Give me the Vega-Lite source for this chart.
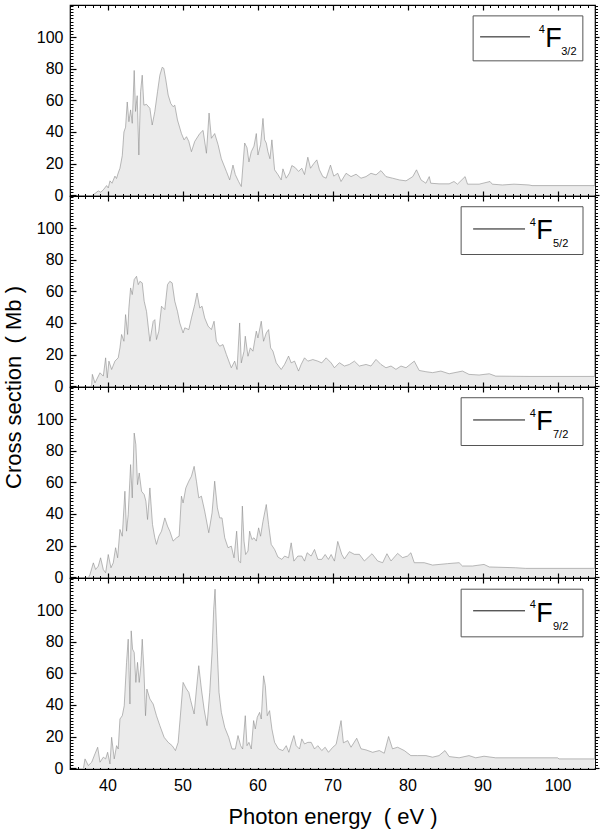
{
"$schema": "https://vega.github.io/schema/vega-lite/v6.json",
"padding": {"left": 1, "top": 3, "right": 2, "bottom": 5},
"background": "white",
"bounds": "flush",
"config": {"view": {"stroke": "black", "strokeWidth": 1.2}, "axis": {"grid": false, "domain": false, "tickColor": "black", "labelColor": "black", "labelFont": "Liberation Sans", "titleFont": "Liberation Sans", "titleFontWeight": "normal", "titleColor": "black"}},
"spacing": 0,
"datasets": {
"s32": [{"E":38.0,"s":0},{"E":38.33,"s":1},{"E":38.77,"s":2.6},{"E":39.1,"s":1.8},{"E":39.44,"s":3.3},{"E":39.88,"s":6},{"E":40.1,"s":4.5},{"E":40.33,"s":9},{"E":40.6,"s":7.5},{"E":40.99,"s":12},{"E":41.2,"s":10.5},{"E":41.43,"s":14},{"E":41.66,"s":17},{"E":41.97,"s":25},{"E":42.19,"s":40},{"E":42.41,"s":43},{"E":42.63,"s":59},{"E":42.85,"s":46.5},{"E":43.08,"s":54},{"E":43.3,"s":45.5},{"E":43.56,"s":79},{"E":43.74,"s":53},{"E":43.96,"s":63},{"E":44.18,"s":25.4},{"E":44.41,"s":65.5},{"E":44.63,"s":76},{"E":44.85,"s":57},{"E":45.2,"s":57.5},{"E":45.65,"s":55},{"E":45.96,"s":44.4},{"E":46.31,"s":53},{"E":46.67,"s":65.5},{"E":46.98,"s":76},{"E":47.29,"s":81},{"E":47.51,"s":80.3},{"E":47.78,"s":73},{"E":48.09,"s":63.4},{"E":48.44,"s":58},{"E":48.75,"s":56},{"E":48.97,"s":57},{"E":49.33,"s":47.6},{"E":49.86,"s":39},{"E":50.21,"s":35},{"E":50.53,"s":37},{"E":50.84,"s":34},{"E":51.19,"s":27.5},{"E":51.63,"s":34},{"E":52.3,"s":39},{"E":52.74,"s":41},{"E":53.19,"s":26.5},{"E":53.54,"s":52},{"E":53.85,"s":36},{"E":54.29,"s":39},{"E":54.74,"s":32},{"E":55.18,"s":23},{"E":55.85,"s":15},{"E":56.29,"s":9.6},{"E":56.73,"s":19},{"E":57.04,"s":13},{"E":57.49,"s":8.5},{"E":57.84,"s":5.4},{"E":58.29,"s":33},{"E":58.6,"s":30},{"E":58.86,"s":21},{"E":59.17,"s":27.5},{"E":59.53,"s":31},{"E":59.84,"s":39},{"E":60.06,"s":25.4},{"E":60.41,"s":32},{"E":60.73,"s":48.6},{"E":60.95,"s":35},{"E":61.17,"s":33},{"E":61.39,"s":27.5},{"E":61.66,"s":23},{"E":61.92,"s":35},{"E":62.28,"s":16},{"E":62.72,"s":13},{"E":63.16,"s":9.6},{"E":63.39,"s":16.6},{"E":63.83,"s":10.7},{"E":64.27,"s":14},{"E":64.58,"s":18.7},{"E":65.03,"s":17.4},{"E":65.47,"s":15},{"E":65.91,"s":17},{"E":66.27,"s":13},{"E":66.71,"s":24},{"E":67.07,"s":17},{"E":67.51,"s":20},{"E":67.91,"s":22.3},{"E":68.26,"s":16},{"E":68.71,"s":11.7},{"E":69.15,"s":10.7},{"E":69.73,"s":19},{"E":70.17,"s":12},{"E":70.7,"s":13.8},{"E":71.14,"s":8.6},{"E":71.81,"s":13.8},{"E":72.47,"s":11.7},{"E":73.14,"s":13.2},{"E":73.8,"s":10.7},{"E":74.47,"s":11.7},{"E":75.13,"s":13.8},{"E":75.8,"s":12.8},{"E":76.46,"s":15.5},{"E":77.13,"s":11.7},{"E":78.0,"s":10.7},{"E":78.9,"s":9.6},{"E":79.8,"s":9},{"E":80.7,"s":11.7},{"E":81.2,"s":16},{"E":81.8,"s":9.6},{"E":82.45,"s":7.5},{"E":82.9,"s":11.7},{"E":83.1,"s":7.5},{"E":84.2,"s":7.1},{"E":85.55,"s":7.1},{"E":86.2,"s":8.6},{"E":86.66,"s":6.9},{"E":87.68,"s":11.7},{"E":88.0,"s":6.9},{"E":89.55,"s":6.9},{"E":91.0,"s":8.6},{"E":91.3,"s":6.9},{"E":92.65,"s":6.4},{"E":94.2,"s":6.9},{"E":96.2,"s":6.4},{"E":96.6,"s":6.0},{"E":105,"s":6.0}],
"s52": [{"E":37.8,"s":0},{"E":37.89,"s":1},{"E":37.98,"s":7.4},{"E":38.33,"s":2},{"E":39.0,"s":8.4},{"E":39.44,"s":6.3},{"E":39.75,"s":17.9},{"E":39.97,"s":5.2},{"E":40.19,"s":15.8},{"E":40.55,"s":10.5},{"E":40.99,"s":15.8},{"E":41.43,"s":17.9},{"E":41.66,"s":24.2},{"E":41.88,"s":32.7},{"E":42.19,"s":28.4},{"E":42.41,"s":45.3},{"E":42.68,"s":32.7},{"E":42.85,"s":49.5},{"E":43.08,"s":62.2},{"E":43.3,"s":58},{"E":43.56,"s":67.5},{"E":43.87,"s":69.6},{"E":44.1,"s":64.3},{"E":44.32,"s":66.4},{"E":44.63,"s":65.4},{"E":44.89,"s":53.8},{"E":45.2,"s":47.4},{"E":45.65,"s":28.4},{"E":46.09,"s":41},{"E":46.31,"s":42.1},{"E":46.53,"s":29.5},{"E":46.84,"s":34.8},{"E":47.2,"s":50.6},{"E":47.64,"s":48.5},{"E":48.0,"s":64.3},{"E":48.31,"s":66.4},{"E":48.62,"s":65.4},{"E":48.97,"s":53.8},{"E":49.33,"s":47.4},{"E":49.64,"s":40},{"E":50.08,"s":33.7},{"E":50.3,"s":36.9},{"E":50.84,"s":35.8},{"E":51.19,"s":43.2},{"E":51.63,"s":51.6},{"E":51.94,"s":59},{"E":52.3,"s":49.5},{"E":52.61,"s":50.6},{"E":52.96,"s":43.2},{"E":53.41,"s":38},{"E":53.85,"s":35.8},{"E":54.21,"s":41.1},{"E":54.52,"s":28.4},{"E":54.96,"s":25.3},{"E":55.4,"s":26.3},{"E":55.85,"s":20},{"E":56.51,"s":11.6},{"E":56.96,"s":15.8},{"E":57.27,"s":10.5},{"E":57.62,"s":40},{"E":57.84,"s":14.7},{"E":58.2,"s":22.1},{"E":58.37,"s":31.6},{"E":58.73,"s":18.9},{"E":59.04,"s":24.2},{"E":59.39,"s":22.1},{"E":59.84,"s":34.8},{"E":60.06,"s":30.5},{"E":60.5,"s":41.1},{"E":60.81,"s":28.4},{"E":61.17,"s":33.7},{"E":61.48,"s":35.8},{"E":61.75,"s":24.2},{"E":62.06,"s":22.1},{"E":62.5,"s":14.7},{"E":63.16,"s":10.5},{"E":63.61,"s":13.7},{"E":64.14,"s":19},{"E":64.49,"s":14.7},{"E":64.94,"s":15.8},{"E":65.47,"s":9.5},{"E":65.82,"s":13.7},{"E":66.27,"s":17.9},{"E":66.71,"s":15.8},{"E":67.38,"s":16.8},{"E":68.04,"s":15.8},{"E":68.57,"s":14.7},{"E":69.15,"s":17.9},{"E":69.82,"s":14.7},{"E":70.26,"s":11.6},{"E":70.92,"s":14.8},{"E":71.59,"s":12.7},{"E":72.25,"s":13.7},{"E":72.92,"s":15.8},{"E":73.58,"s":12.7},{"E":74.47,"s":13.7},{"E":75.13,"s":12.7},{"E":75.8,"s":16.9},{"E":76.46,"s":13.7},{"E":77.13,"s":11.6},{"E":77.8,"s":12.7},{"E":78.46,"s":10.6},{"E":79.13,"s":12.7},{"E":79.8,"s":11.6},{"E":80.9,"s":15.8},{"E":81.56,"s":9.9},{"E":82.45,"s":9.1},{"E":83.34,"s":8.5},{"E":84.45,"s":9.5},{"E":85.55,"s":7.8},{"E":87.33,"s":9.5},{"E":88.2,"s":7.4},{"E":89.55,"s":7.0},{"E":90.9,"s":7.8},{"E":91.76,"s":6.3},{"E":96.2,"s":6.1},{"E":105,"s":6.1}],
"s72": [{"E":37.5,"s":0},{"E":37.67,"s":1.7},{"E":38.11,"s":9},{"E":38.42,"s":4.8},{"E":38.77,"s":6.9},{"E":39.08,"s":12.2},{"E":39.44,"s":4.8},{"E":39.75,"s":2.7},{"E":40.1,"s":14.3},{"E":40.46,"s":5.9},{"E":40.77,"s":9},{"E":41.08,"s":18.6},{"E":41.35,"s":12.2},{"E":41.66,"s":30.2},{"E":41.97,"s":25.9},{"E":42.32,"s":54.4},{"E":42.54,"s":29.1},{"E":42.76,"s":39.6},{"E":43.08,"s":71.3},{"E":43.3,"s":50.2},{"E":43.56,"s":91.3},{"E":43.78,"s":84},{"E":44.0,"s":58.6},{"E":44.23,"s":66},{"E":44.54,"s":54.4},{"E":44.89,"s":52.3},{"E":45.12,"s":48.1},{"E":45.34,"s":36.5},{"E":45.65,"s":56.5},{"E":46.0,"s":33.3},{"E":46.31,"s":24.9},{"E":46.53,"s":20.7},{"E":46.84,"s":25.9},{"E":47.2,"s":29.1},{"E":47.64,"s":37.5},{"E":48.0,"s":32.3},{"E":48.31,"s":29.1},{"E":48.75,"s":22.8},{"E":49.2,"s":24.9},{"E":49.55,"s":25.9},{"E":49.86,"s":51.3},{"E":50.08,"s":47},{"E":50.44,"s":56.5},{"E":50.84,"s":60.8},{"E":51.19,"s":63.9},{"E":51.55,"s":70.2},{"E":51.86,"s":60.8},{"E":52.17,"s":50.2},{"E":52.52,"s":51.3},{"E":52.96,"s":41.8},{"E":53.5,"s":28.1},{"E":53.94,"s":40.7},{"E":54.29,"s":60.8},{"E":54.65,"s":43.9},{"E":54.96,"s":37.5},{"E":55.27,"s":37.5},{"E":55.63,"s":24.9},{"E":56.07,"s":18.6},{"E":56.51,"s":19.6},{"E":56.87,"s":12.2},{"E":57.22,"s":29.1},{"E":57.49,"s":10.1},{"E":57.75,"s":9.1},{"E":57.98,"s":45},{"E":58.2,"s":22.8},{"E":58.42,"s":14.3},{"E":58.73,"s":16.5},{"E":58.95,"s":29.1},{"E":59.26,"s":23.8},{"E":59.53,"s":24.9},{"E":59.84,"s":22.8},{"E":60.15,"s":31.2},{"E":60.41,"s":25.9},{"E":60.73,"s":35.4},{"E":61.17,"s":46},{"E":61.48,"s":33.3},{"E":61.83,"s":20.7},{"E":62.28,"s":17.5},{"E":62.72,"s":12.7},{"E":63.25,"s":11.2},{"E":63.61,"s":13.3},{"E":64.14,"s":12.2},{"E":64.49,"s":21.7},{"E":64.85,"s":10.1},{"E":65.38,"s":13.3},{"E":65.91,"s":13.3},{"E":66.27,"s":10.1},{"E":66.62,"s":15.4},{"E":67.15,"s":13.3},{"E":67.6,"s":17.5},{"E":68.04,"s":11.2},{"E":68.57,"s":11.2},{"E":69.02,"s":14.3},{"E":69.46,"s":11.2},{"E":69.82,"s":14.3},{"E":70.26,"s":10.1},{"E":70.7,"s":22.6},{"E":71.24,"s":14.3},{"E":71.59,"s":11.5},{"E":72.25,"s":16.1},{"E":72.92,"s":14.4},{"E":73.58,"s":14.4},{"E":74.25,"s":10.2},{"E":75.27,"s":14.8},{"E":76.02,"s":10.2},{"E":76.69,"s":9.1},{"E":77.26,"s":14.8},{"E":77.8,"s":10.2},{"E":78.68,"s":15},{"E":79.35,"s":12.3},{"E":80.0,"s":13.3},{"E":80.45,"s":15.4},{"E":80.9,"s":9.1},{"E":82.23,"s":9.1},{"E":83.34,"s":7.6},{"E":85.33,"s":8.5},{"E":86.88,"s":9.1},{"E":87.33,"s":7.0},{"E":88.66,"s":7.0},{"E":90.2,"s":8.0},{"E":90.9,"s":6.4},{"E":94.4,"s":5.9},{"E":95.75,"s":5.5},{"E":105,"s":5.5}],
"s92": [{"E":36.8,"s":0},{"E":37.0,"s":5.8},{"E":37.44,"s":1.6},{"E":37.89,"s":3.7},{"E":38.33,"s":9},{"E":38.69,"s":13.2},{"E":39.0,"s":3.7},{"E":39.44,"s":6.9},{"E":39.75,"s":5.8},{"E":40.02,"s":10},{"E":40.33,"s":2.6},{"E":40.55,"s":19.5},{"E":40.9,"s":5.8},{"E":41.21,"s":14.2},{"E":41.43,"s":12.1},{"E":41.66,"s":31.1},{"E":41.97,"s":33.2},{"E":42.23,"s":39.5},{"E":42.54,"s":67},{"E":42.76,"s":81.7},{"E":42.99,"s":40.6},{"E":43.16,"s":87},{"E":43.34,"s":75.4},{"E":43.56,"s":73.3},{"E":43.78,"s":54.3},{"E":44.0,"s":67},{"E":44.23,"s":54.3},{"E":44.45,"s":64.9},{"E":44.63,"s":81.7},{"E":44.85,"s":62.8},{"E":45.07,"s":33.2},{"E":45.25,"s":50.1},{"E":45.65,"s":43.8},{"E":46.09,"s":40.6},{"E":46.53,"s":33.2},{"E":46.98,"s":26.9},{"E":47.55,"s":19.5},{"E":48.09,"s":16.3},{"E":48.62,"s":14.2},{"E":49.06,"s":11.1},{"E":49.42,"s":16.3},{"E":49.68,"s":31.1},{"E":50.08,"s":54.3},{"E":50.53,"s":50.1},{"E":50.84,"s":48},{"E":51.1,"s":42.7},{"E":51.55,"s":34.3},{"E":51.86,"s":50.1},{"E":52.17,"s":64.9},{"E":52.52,"s":50.1},{"E":52.88,"s":37.4},{"E":53.27,"s":26.9},{"E":53.63,"s":48},{"E":53.94,"s":73.3},{"E":54.16,"s":100.7},{"E":54.34,"s":113.4},{"E":54.56,"s":83.9},{"E":54.87,"s":48},{"E":55.18,"s":35.3},{"E":55.63,"s":25.8},{"E":56.16,"s":19.5},{"E":56.6,"s":12.1},{"E":57.04,"s":12.1},{"E":57.4,"s":20.6},{"E":57.75,"s":14.2},{"E":58.02,"s":12.1},{"E":58.37,"s":33.2},{"E":58.6,"s":14.2},{"E":58.86,"s":16.3},{"E":59.17,"s":12.1},{"E":59.48,"s":30.1},{"E":59.71,"s":24.8},{"E":59.97,"s":32.2},{"E":60.28,"s":35.3},{"E":60.5,"s":31.1},{"E":60.81,"s":58.5},{"E":61.04,"s":52.2},{"E":61.3,"s":33.2},{"E":61.61,"s":36.4},{"E":61.92,"s":24.8},{"E":62.28,"s":16.3},{"E":62.81,"s":12.1},{"E":63.39,"s":11.1},{"E":63.83,"s":14.2},{"E":64.18,"s":10},{"E":64.49,"s":15.3},{"E":64.85,"s":20.6},{"E":65.16,"s":14.2},{"E":65.6,"s":12.1},{"E":65.91,"s":18.5},{"E":66.27,"s":15.3},{"E":66.71,"s":16.3},{"E":67.16,"s":16.3},{"E":67.6,"s":12.1},{"E":68.04,"s":14.2},{"E":68.57,"s":11.1},{"E":69.02,"s":13.2},{"E":69.46,"s":10},{"E":70.04,"s":13.2},{"E":70.48,"s":15},{"E":70.92,"s":25},{"E":71.14,"s":30.1},{"E":71.45,"s":16},{"E":72.03,"s":17.4},{"E":72.47,"s":13.2},{"E":73.23,"s":18.9},{"E":73.8,"s":12.2},{"E":74.47,"s":11.5},{"E":75.35,"s":10.0},{"E":76.24,"s":11.1},{"E":76.9,"s":9.4},{"E":77.48,"s":20},{"E":78.0,"s":12.2},{"E":78.68,"s":13.2},{"E":79.57,"s":11.1},{"E":80.45,"s":7.9},{"E":81.34,"s":7.9},{"E":82.45,"s":7.9},{"E":83.34,"s":6.9},{"E":84.2,"s":7.9},{"E":85.0,"s":11.1},{"E":85.55,"s":7.3},{"E":86.88,"s":6.5},{"E":88.2,"s":7.9},{"E":89.1,"s":6.5},{"E":90.2,"s":7.5},{"E":91.76,"s":6.5},{"E":100.0,"s":6.5},{"E":100.2,"s":5.8},{"E":105,"s":5.8}]
},
"vconcat": [
{
"width": 525, "height": 191,
"layer": [
{"data": {"name": "s32"}, "mark": {"type": "area", "fill": "#ebebeb", "strokeWidth": 0},
 "encoding": {
  "x": {"field": "E", "type": "quantitative", "scale": {"domain": [35, 105], "nice": false, "zero": false}, "axis": {"orient": "bottom", "values": [40,50,60,70,80,90,100], "labels": false, "tickSize": 5, "tickWidth": 1.2, "title": null}},
  "y": {"field": "s", "type": "quantitative", "scale": {"domain": [-0.6, 120.5], "nice": false, "zero": false}, "axis": {"orient": "left", "values": [0,20,40,60,80,100], "tickSize": -6, "tickWidth": 1.2, "labelPadding": 13, "labelFontSize": 16, "title": null}},
  "y2": {"datum": 0}}},
{"data": {"name": "s32"}, "mark": {"type": "line", "stroke": "#8c8c8c", "strokeWidth": 0.6},
 "encoding": {
  "x": {"field": "E", "type": "quantitative", "axis": {"orient": "bottom", "values": [35,36,37,38,39,40,41,42,43,44,45,46,47,48,49,50,51,52,53,54,55,56,57,58,59,60,61,62,63,64,65,66,67,68,69,70,71,72,73,74,75,76,77,78,79,80,81,82,83,84,85,86,87,88,89,90,91,92,93,94,95,96,97,98,99,100,101,102,103,104,105], "labels": false, "tickSize": 2.5, "tickWidth": 1, "title": null}},
  "y": {"field": "s", "type": "quantitative", "axis": {"orient": "left", "values": [0,2,4,6,8,10,12,14,16,18,20,22,24,26,28,30,32,34,36,38,40,42,44,46,48,50,52,54,56,58,60,62,64,66,68,70,72,74,76,78,80,82,84,86,88,90,92,94,96,98,100,102,104,106,108,110,112,114,116,118,120], "labels": false, "tickSize": -3, "tickWidth": 1, "title": null}}}},
{"data": {"values": [{"box": "legend"}]}, "mark": {"type": "rect", "fill": "white", "stroke": "#555555", "strokeWidth": 1},
 "encoding": {
  "x": {"datum": 88.75, "type": "quantitative", "axis": {"orient": "top", "values": [40,50,60,70,80,90,100], "labels": false, "tickSize": -5, "tickWidth": 1.2, "title": null}},
  "x2": {"datum": 103.38},
  "y": {"datum": 113.6, "type": "quantitative", "axis": {"orient": "right", "values": [0,20,40,60,80,100], "labels": false, "tickSize": 4, "tickWidth": 1.2, "title": null}},
  "y2": {"datum": 85.1}}},
{"data": {"values": [{"line": "legend"}]}, "mark": {"type": "rule", "stroke": "#111111", "strokeWidth": 1},
 "encoding": {
  "x": {"datum": 89.68, "type": "quantitative", "axis": {"orient": "top", "values": [35,36,37,38,39,40,41,42,43,44,45,46,47,48,49,50,51,52,53,54,55,56,57,58,59,60,61,62,63,64,65,66,67,68,69,70,71,72,73,74,75,76,77,78,79,80,81,82,83,84,85,86,87,88,89,90,91,92,93,94,95,96,97,98,99,100,101,102,103,104,105], "labels": false, "tickSize": -2.5, "tickWidth": 1, "title": null}},
  "x2": {"datum": 96.33},
  "y": {"datum": 100.3, "type": "quantitative", "axis": {"orient": "right", "values": [0,2,4,6,8,10,12,14,16,18,20,22,24,26,28,30,32,34,36,38,40,42,44,46,48,50,52,54,56,58,60,62,64,66,68,70,72,74,76,78,80,82,84,86,88,90,92,94,96,98,100,102,104,106,108,110,112,114,116,118,120], "labels": false, "tickSize": 2.5, "tickWidth": 1, "title": null}}}},
{"data": {"values": [{"t": "4"}]}, "mark": {"type": "text", "align": "left", "baseline": "alphabetic", "fontSize": 11, "font": "Liberation Sans"},
 "encoding": {"x": {"datum": 97.5, "type": "quantitative", "axis": null}, "y": {"datum": 102.8, "type": "quantitative", "axis": null}, "text": {"field": "t"}}},
{"data": {"values": [{"t": "F"}]}, "mark": {"type": "text", "align": "left", "baseline": "alphabetic", "fontSize": 27, "font": "Liberation Sans"},
 "encoding": {"x": {"datum": 98.35, "type": "quantitative", "axis": null}, "y": {"datum": 94, "type": "quantitative", "axis": null}, "text": {"field": "t"}}},
{"data": {"values": [{"t": "3/2"}]}, "mark": {"type": "text", "align": "left", "baseline": "alphabetic", "fontSize": 11, "font": "Liberation Sans"},
 "encoding": {"x": {"datum": 100.5, "type": "quantitative", "axis": null}, "y": {"datum": 88.9, "type": "quantitative", "axis": null}, "text": {"field": "t"}}}
],
"resolve": {"axis": {"x": "independent", "y": "independent"}}
},
{
"width": 525, "height": 191,
"layer": [
{"data": {"name": "s52"}, "mark": {"type": "area", "fill": "#ebebeb", "strokeWidth": 0},
 "encoding": {
  "x": {"field": "E", "type": "quantitative", "scale": {"domain": [35, 105], "nice": false, "zero": false}, "axis": {"orient": "bottom", "values": [40,50,60,70,80,90,100], "labels": false, "tickSize": 5, "tickWidth": 1.2, "title": null}},
  "y": {"field": "s", "type": "quantitative", "scale": {"domain": [-0.6, 120.5], "nice": false, "zero": false}, "axis": {"orient": "left", "values": [0,20,40,60,80,100], "tickSize": -6, "tickWidth": 1.2, "labelPadding": 13, "labelFontSize": 16, "title": null}},
  "y2": {"datum": 0}}},
{"data": {"name": "s52"}, "mark": {"type": "line", "stroke": "#8c8c8c", "strokeWidth": 0.6},
 "encoding": {
  "x": {"field": "E", "type": "quantitative", "axis": {"orient": "bottom", "values": [35,36,37,38,39,40,41,42,43,44,45,46,47,48,49,50,51,52,53,54,55,56,57,58,59,60,61,62,63,64,65,66,67,68,69,70,71,72,73,74,75,76,77,78,79,80,81,82,83,84,85,86,87,88,89,90,91,92,93,94,95,96,97,98,99,100,101,102,103,104,105], "labels": false, "tickSize": 2.5, "tickWidth": 1, "title": null}},
  "y": {"field": "s", "type": "quantitative", "axis": {"orient": "left", "values": [0,2,4,6,8,10,12,14,16,18,20,22,24,26,28,30,32,34,36,38,40,42,44,46,48,50,52,54,56,58,60,62,64,66,68,70,72,74,76,78,80,82,84,86,88,90,92,94,96,98,100,102,104,106,108,110,112,114,116,118,120], "labels": false, "tickSize": -3, "tickWidth": 1, "title": null}}}},
{"data": {"values": [{"box": "legend"}]}, "mark": {"type": "rect", "fill": "white", "stroke": "#555555", "strokeWidth": 1},
 "encoding": {
  "x": {"datum": 87.15, "type": "quantitative", "axis": {"orient": "top", "values": [40,50,60,70,80,90,100], "labels": false, "tickSize": 5, "tickWidth": 1.2, "title": null}},
  "x2": {"datum": 103.4},
  "y": {"datum": 113.7, "type": "quantitative", "axis": {"orient": "right", "values": [0,20,40,60,80,100], "labels": false, "tickSize": 4, "tickWidth": 1.2, "title": null}},
  "y2": {"datum": 83.4}}},
{"data": {"values": [{"line": "legend"}]}, "mark": {"type": "rule", "stroke": "#111111", "strokeWidth": 1},
 "encoding": {
  "x": {"datum": 88.75, "type": "quantitative", "axis": {"orient": "top", "values": [35,36,37,38,39,40,41,42,43,44,45,46,47,48,49,50,51,52,53,54,55,56,57,58,59,60,61,62,63,64,65,66,67,68,69,70,71,72,73,74,75,76,77,78,79,80,81,82,83,84,85,86,87,88,89,90,91,92,93,94,95,96,97,98,99,100,101,102,103,104,105], "labels": false, "tickSize": 2.5, "tickWidth": 1, "title": null}},
  "x2": {"datum": 95.67},
  "y": {"datum": 99.6, "type": "quantitative", "axis": {"orient": "right", "values": [0,2,4,6,8,10,12,14,16,18,20,22,24,26,28,30,32,34,36,38,40,42,44,46,48,50,52,54,56,58,60,62,64,66,68,70,72,74,76,78,80,82,84,86,88,90,92,94,96,98,100,102,104,106,108,110,112,114,116,118,120], "labels": false, "tickSize": 2.5, "tickWidth": 1, "title": null}}}},
{"data": {"values": [{"t": "4"}]}, "mark": {"type": "text", "align": "left", "baseline": "alphabetic", "fontSize": 11, "font": "Liberation Sans"},
 "encoding": {"x": {"datum": 96.3, "type": "quantitative", "axis": null}, "y": {"datum": 101.3, "type": "quantitative", "axis": null}, "text": {"field": "t"}}},
{"data": {"values": [{"t": "F"}]}, "mark": {"type": "text", "align": "left", "baseline": "alphabetic", "fontSize": 27, "font": "Liberation Sans"},
 "encoding": {"x": {"datum": 97.15, "type": "quantitative", "axis": null}, "y": {"datum": 93.0, "type": "quantitative", "axis": null}, "text": {"field": "t"}}},
{"data": {"values": [{"t": "5/2"}]}, "mark": {"type": "text", "align": "left", "baseline": "alphabetic", "fontSize": 11, "font": "Liberation Sans"},
 "encoding": {"x": {"datum": 99.4, "type": "quantitative", "axis": null}, "y": {"datum": 87.9, "type": "quantitative", "axis": null}, "text": {"field": "t"}}}
],
"resolve": {"axis": {"x": "independent", "y": "independent"}}
},
{
"width": 525, "height": 191,
"layer": [
{"data": {"name": "s72"}, "mark": {"type": "area", "fill": "#ebebeb", "strokeWidth": 0},
 "encoding": {
  "x": {"field": "E", "type": "quantitative", "scale": {"domain": [35, 105], "nice": false, "zero": false}, "axis": {"orient": "bottom", "values": [40,50,60,70,80,90,100], "labels": false, "tickSize": 5, "tickWidth": 1.2, "title": null}},
  "y": {"field": "s", "type": "quantitative", "scale": {"domain": [-0.6, 120.5], "nice": false, "zero": false}, "axis": {"orient": "left", "values": [0,20,40,60,80,100], "tickSize": -6, "tickWidth": 1.2, "labelPadding": 13, "labelFontSize": 16, "title": "Cross section \u00a0( Mb )", "titleFontSize": 22, "titleY": 0, "titleX": -45, "titleAlign": "center"}},
  "y2": {"datum": 0}}},
{"data": {"name": "s72"}, "mark": {"type": "line", "stroke": "#8c8c8c", "strokeWidth": 0.6},
 "encoding": {
  "x": {"field": "E", "type": "quantitative", "axis": {"orient": "bottom", "values": [35,36,37,38,39,40,41,42,43,44,45,46,47,48,49,50,51,52,53,54,55,56,57,58,59,60,61,62,63,64,65,66,67,68,69,70,71,72,73,74,75,76,77,78,79,80,81,82,83,84,85,86,87,88,89,90,91,92,93,94,95,96,97,98,99,100,101,102,103,104,105], "labels": false, "tickSize": 2.5, "tickWidth": 1, "title": null}},
  "y": {"field": "s", "type": "quantitative", "axis": {"orient": "left", "values": [0,2,4,6,8,10,12,14,16,18,20,22,24,26,28,30,32,34,36,38,40,42,44,46,48,50,52,54,56,58,60,62,64,66,68,70,72,74,76,78,80,82,84,86,88,90,92,94,96,98,100,102,104,106,108,110,112,114,116,118,120], "labels": false, "tickSize": -3, "tickWidth": 1, "title": null}}}},
{"data": {"values": [{"box": "legend"}]}, "mark": {"type": "rect", "fill": "white", "stroke": "#555555", "strokeWidth": 1},
 "encoding": {
  "x": {"datum": 87.15, "type": "quantitative", "axis": {"orient": "top", "values": [40,50,60,70,80,90,100], "labels": false, "tickSize": 5, "tickWidth": 1.2, "title": null}},
  "x2": {"datum": 103.4},
  "y": {"datum": 113.7, "type": "quantitative", "axis": {"orient": "right", "values": [0,20,40,60,80,100], "labels": false, "tickSize": 4, "tickWidth": 1.2, "title": null}},
  "y2": {"datum": 83.4}}},
{"data": {"values": [{"line": "legend"}]}, "mark": {"type": "rule", "stroke": "#111111", "strokeWidth": 1},
 "encoding": {
  "x": {"datum": 88.75, "type": "quantitative", "axis": {"orient": "top", "values": [35,36,37,38,39,40,41,42,43,44,45,46,47,48,49,50,51,52,53,54,55,56,57,58,59,60,61,62,63,64,65,66,67,68,69,70,71,72,73,74,75,76,77,78,79,80,81,82,83,84,85,86,87,88,89,90,91,92,93,94,95,96,97,98,99,100,101,102,103,104,105], "labels": false, "tickSize": 2.5, "tickWidth": 1, "title": null}},
  "x2": {"datum": 95.67},
  "y": {"datum": 99.6, "type": "quantitative", "axis": {"orient": "right", "values": [0,2,4,6,8,10,12,14,16,18,20,22,24,26,28,30,32,34,36,38,40,42,44,46,48,50,52,54,56,58,60,62,64,66,68,70,72,74,76,78,80,82,84,86,88,90,92,94,96,98,100,102,104,106,108,110,112,114,116,118,120], "labels": false, "tickSize": 2.5, "tickWidth": 1, "title": null}}}},
{"data": {"values": [{"t": "4"}]}, "mark": {"type": "text", "align": "left", "baseline": "alphabetic", "fontSize": 11, "font": "Liberation Sans"},
 "encoding": {"x": {"datum": 96.3, "type": "quantitative", "axis": null}, "y": {"datum": 101.3, "type": "quantitative", "axis": null}, "text": {"field": "t"}}},
{"data": {"values": [{"t": "F"}]}, "mark": {"type": "text", "align": "left", "baseline": "alphabetic", "fontSize": 27, "font": "Liberation Sans"},
 "encoding": {"x": {"datum": 97.15, "type": "quantitative", "axis": null}, "y": {"datum": 93.0, "type": "quantitative", "axis": null}, "text": {"field": "t"}}},
{"data": {"values": [{"t": "7/2"}]}, "mark": {"type": "text", "align": "left", "baseline": "alphabetic", "fontSize": 11, "font": "Liberation Sans"},
 "encoding": {"x": {"datum": 99.4, "type": "quantitative", "axis": null}, "y": {"datum": 87.9, "type": "quantitative", "axis": null}, "text": {"field": "t"}}}
],
"resolve": {"axis": {"x": "independent", "y": "independent"}}
},
{
"width": 525, "height": 191,
"layer": [
{"data": {"name": "s92"}, "mark": {"type": "area", "fill": "#ebebeb", "strokeWidth": 0},
 "encoding": {
  "x": {"field": "E", "type": "quantitative", "scale": {"domain": [35, 105], "nice": false, "zero": false}, "axis": {"orient": "bottom", "values": [40,50,60,70,80,90,100], "labels": true, "labelFontSize": 16, "labelPadding": 13, "tickSize": -5, "tickWidth": 1.2, "title": "Photon energy \u00a0( eV )", "titleFontSize": 22, "titlePadding": 13}},
  "y": {"field": "s", "type": "quantitative", "scale": {"domain": [-0.6, 120.5], "nice": false, "zero": false}, "axis": {"orient": "left", "values": [0,20,40,60,80,100], "tickSize": -6, "tickWidth": 1.2, "labelPadding": 13, "labelFontSize": 16, "title": null}},
  "y2": {"datum": 0}}},
{"data": {"name": "s92"}, "mark": {"type": "line", "stroke": "#8c8c8c", "strokeWidth": 0.6},
 "encoding": {
  "x": {"field": "E", "type": "quantitative", "axis": {"orient": "bottom", "values": [35,36,37,38,39,40,41,42,43,44,45,46,47,48,49,50,51,52,53,54,55,56,57,58,59,60,61,62,63,64,65,66,67,68,69,70,71,72,73,74,75,76,77,78,79,80,81,82,83,84,85,86,87,88,89,90,91,92,93,94,95,96,97,98,99,100,101,102,103,104,105], "labels": false, "tickSize": -2.5, "tickWidth": 1, "title": null}},
  "y": {"field": "s", "type": "quantitative", "axis": {"orient": "left", "values": [0,2,4,6,8,10,12,14,16,18,20,22,24,26,28,30,32,34,36,38,40,42,44,46,48,50,52,54,56,58,60,62,64,66,68,70,72,74,76,78,80,82,84,86,88,90,92,94,96,98,100,102,104,106,108,110,112,114,116,118,120], "labels": false, "tickSize": -3, "tickWidth": 1, "title": null}}}},
{"data": {"values": [{"box": "legend"}]}, "mark": {"type": "rect", "fill": "white", "stroke": "#555555", "strokeWidth": 1},
 "encoding": {
  "x": {"datum": 87.15, "type": "quantitative", "axis": {"orient": "top", "values": [40,50,60,70,80,90,100], "labels": false, "tickSize": 5, "tickWidth": 1.2, "title": null}},
  "x2": {"datum": 103.4},
  "y": {"datum": 113.4, "type": "quantitative", "axis": {"orient": "right", "values": [0,20,40,60,80,100], "labels": false, "tickSize": 4, "tickWidth": 1.2, "title": null}},
  "y2": {"datum": 83.2}}},
{"data": {"values": [{"line": "legend"}]}, "mark": {"type": "rule", "stroke": "#111111", "strokeWidth": 1},
 "encoding": {
  "x": {"datum": 88.75, "type": "quantitative", "axis": {"orient": "top", "values": [35,36,37,38,39,40,41,42,43,44,45,46,47,48,49,50,51,52,53,54,55,56,57,58,59,60,61,62,63,64,65,66,67,68,69,70,71,72,73,74,75,76,77,78,79,80,81,82,83,84,85,86,87,88,89,90,91,92,93,94,95,96,97,98,99,100,101,102,103,104,105], "labels": false, "tickSize": 2.5, "tickWidth": 1, "title": null}},
  "x2": {"datum": 95.67},
  "y": {"datum": 99.7, "type": "quantitative", "axis": {"orient": "right", "values": [0,2,4,6,8,10,12,14,16,18,20,22,24,26,28,30,32,34,36,38,40,42,44,46,48,50,52,54,56,58,60,62,64,66,68,70,72,74,76,78,80,82,84,86,88,90,92,94,96,98,100,102,104,106,108,110,112,114,116,118,120], "labels": false, "tickSize": 2.5, "tickWidth": 1, "title": null}}}},
{"data": {"values": [{"t": "4"}]}, "mark": {"type": "text", "align": "left", "baseline": "alphabetic", "fontSize": 11, "font": "Liberation Sans"},
 "encoding": {"x": {"datum": 96.3, "type": "quantitative", "axis": null}, "y": {"datum": 101.3, "type": "quantitative", "axis": null}, "text": {"field": "t"}}},
{"data": {"values": [{"t": "F"}]}, "mark": {"type": "text", "align": "left", "baseline": "alphabetic", "fontSize": 27, "font": "Liberation Sans"},
 "encoding": {"x": {"datum": 97.15, "type": "quantitative", "axis": null}, "y": {"datum": 92.7, "type": "quantitative", "axis": null}, "text": {"field": "t"}}},
{"data": {"values": [{"t": "9/2"}]}, "mark": {"type": "text", "align": "left", "baseline": "alphabetic", "fontSize": 11, "font": "Liberation Sans"},
 "encoding": {"x": {"datum": 99.4, "type": "quantitative", "axis": null}, "y": {"datum": 87.6, "type": "quantitative", "axis": null}, "text": {"field": "t"}}}
],
"resolve": {"axis": {"x": "independent", "y": "independent"}}
}
]
}
